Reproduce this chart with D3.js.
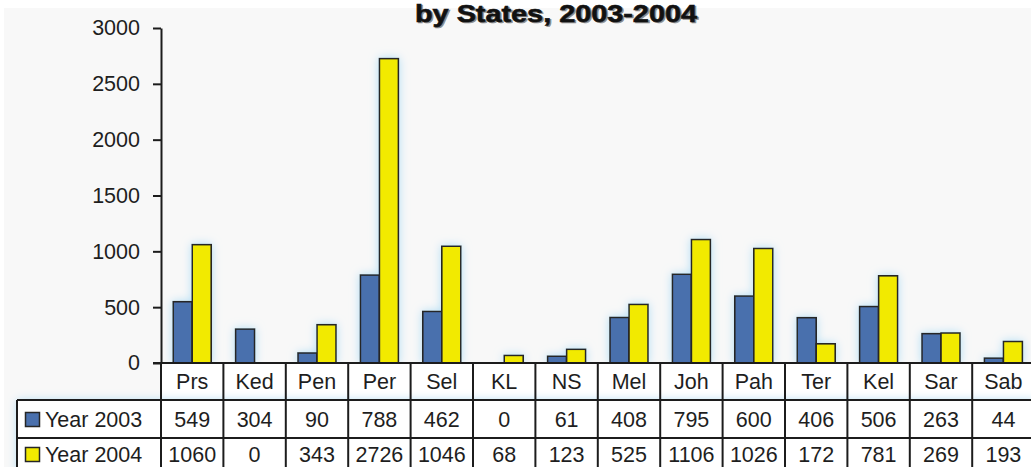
<!DOCTYPE html>
<html>
<head>
<meta charset="utf-8">
<script src="https://cdn.jsdelivr.net/npm/d3@7"></script>
<style>
  html, body { margin: 0; padding: 0; background: #ffffff; }
  svg { display: block; font-family: "Liberation Sans", Arial, sans-serif; }
</style>
</head>
<body>
<svg id="chart" width="1031" height="467"></svg>
<script>
// States (abbreviated) and yearly counts
const categories = ["Prs", "Ked", "Pen", "Per", "Sel", "KL", "NS", "Mel", "Joh", "Pah", "Ter", "Kel", "Sar", "Sab"];
const year2003 = [549, 304, 90, 788, 462, 0, 61, 408, 795, 600, 406, 506, 263, 44];
const year2004 = [1060, 0, 343, 2726, 1046, 68, 123, 525, 1106, 1026, 172, 781, 269, 193];
const seriesNames = ["Year 2003", "Year 2004"];
const yTicks = [0, 500, 1000, 1500, 2000, 2500, 3000];
const titleText = "by States, 2003-2004";

const colors = { "Year 2003": "#4a70ad", "Year 2004": "#f2ea00" };
const seriesValues = { "Year 2003": year2003, "Year 2004": year2004 };

const W = 1031, H = 467;
const plotLeft = 161, colW = 62.4;
const yTop = 28, yBase = 363;
const rowH = [37, 38, 38];   // header row, 2003 row, 2004 row
const tableLeft = 17;
const lineColor = "#1c1c1c";
const fs = 21.5;

const svg = d3.select("#chart");

// soft bluish halo around the marks
const defs = svg.append("defs");
const glow = defs.append("filter").attr("id", "halo")
  .attr("x", "-60%").attr("y", "-20%").attr("width", "220%").attr("height", "140%");
glow.append("feGaussianBlur").attr("in", "SourceAlpha").attr("stdDeviation", 5).attr("result", "b");
glow.append("feFlood").attr("flood-color", "#b3def5").attr("flood-opacity", 1);
glow.append("feComposite").attr("in2", "b").attr("operator", "in");
const gm = glow.append("feMerge");
gm.append("feMergeNode");
gm.append("feMergeNode").attr("in", "SourceGraphic");

// background panel
svg.append("rect").attr("x", 4).attr("y", 8).attr("width", W - 4).attr("height", H - 8)
  .attr("fill", "#f8f8f8");

// scales
const x0 = d3.scaleBand().domain(categories)
  .range([plotLeft, plotLeft + colW * categories.length]).paddingInner(0).paddingOuter(0);
const x1 = d3.scaleBand().domain(seriesNames).range([0, x0.bandwidth()])
  .paddingInner(0).paddingOuter(0.64);
const y = d3.scaleLinear().domain([0, 3000]).range([yBase, yTop]);

// title (heavy, with a grey drop shadow)
const title = svg.append("g");
[["#8a8a8a", 1.5], ["#111", 0]].forEach(([fill, off]) => {
  title.append("text").attr("x", 415 + off).attr("y", 21.5 + off)
    .attr("font-size", 24).attr("font-weight", "bold").attr("fill", fill)
    .attr("stroke", fill).attr("stroke-width", 0.6)
    .attr("textLength", 282).attr("lengthAdjust", "spacingAndGlyphs")
    .text(titleText);
});

// bars
const barData = [];
categories.forEach((c, i) => {
  seriesNames.forEach(s => barData.push({ cat: c, series: s, value: seriesValues[s][i] }));
});
svg.append("g").attr("filter", "url(#halo)")
  .selectAll("rect").data(barData.filter(d => d.value > 0)).join("rect")
  .attr("x", d => x0(d.cat) + x1(d.series))
  .attr("y", d => y(d.value))
  .attr("width", x1.bandwidth())
  .attr("height", d => y(0) - y(d.value))
  .attr("fill", d => colors[d.series])
  .attr("stroke", "#262626").attr("stroke-width", 1.6);

// y axis
const yAxis = svg.append("g").attr("transform", `translate(${plotLeft},0)`)
  .call(d3.axisLeft(y).tickValues(yTicks).tickFormat(d3.format("d"))
    .tickSize(8).tickPadding(13).tickSizeOuter(0));
yAxis.select(".domain").attr("stroke", lineColor).attr("stroke-width", 2);
yAxis.selectAll(".tick line").attr("stroke", lineColor).attr("stroke-width", 2);
yAxis.selectAll(".tick text").attr("font-size", fs).attr("fill", "#1e1e1e")
  .attr("font-family", "'Liberation Sans', Arial, sans-serif");

// data table below the axis
const rowTop = [yBase, yBase + rowH[0], yBase + rowH[0] + rowH[1]];
const tableBottom = rowTop[2] + rowH[2];
const tableRight = plotLeft + colW * categories.length;

const table = svg.append("g");
// white cells
table.append("rect").attr("x", plotLeft).attr("y", rowTop[0])
  .attr("width", tableRight - plotLeft).attr("height", rowH[0]).attr("fill", "#fff");
table.append("rect").attr("x", tableLeft).attr("y", rowTop[1])
  .attr("width", tableRight - tableLeft).attr("height", tableBottom - rowTop[1])
  .attr("fill", "#fff").attr("filter", "url(#halo)");

// grid lines
const gl = table.append("g").attr("stroke", lineColor).attr("stroke-width", 2);
gl.append("line").attr("x1", plotLeft - 8).attr("x2", tableRight).attr("y1", rowTop[0]).attr("y2", rowTop[0]);
gl.append("line").attr("x1", tableLeft).attr("x2", tableRight).attr("y1", rowTop[1]).attr("y2", rowTop[1]);
gl.append("line").attr("x1", tableLeft).attr("x2", tableRight).attr("y1", rowTop[2]).attr("y2", rowTop[2]);
gl.append("line").attr("x1", tableLeft).attr("x2", tableLeft).attr("y1", rowTop[1]).attr("y2", tableBottom);
gl.selectAll("line.col").data(categories.concat(["_end"])).join("line").attr("class", "col")
  .attr("x1", (d, i) => plotLeft + i * colW).attr("x2", (d, i) => plotLeft + i * colW)
  .attr("y1", rowTop[0]).attr("y2", tableBottom);

// category labels
table.selectAll("text.cat").data(categories).join("text").attr("class", "cat")
  .attr("x", d => x0(d) + x0.bandwidth() / 2)
  .attr("y", rowTop[0] + rowH[0] / 2 + 7.5)
  .attr("text-anchor", "middle").attr("font-size", fs).attr("fill", "#1e1e1e")
  .text(d => d);

// series rows (the last row sits against the bottom edge)
const rowBaseline = [rowTop[1] + 27, rowTop[2] + 24];
seriesNames.forEach((s, r) => {
  const base = rowBaseline[r];
  table.append("rect").attr("x", 25.5).attr("y", base - 14.5).attr("width", 14).attr("height", 14)
    .attr("fill", colors[s]).attr("stroke", "#262626").attr("stroke-width", 1.5);
  table.append("text").attr("x", 45).attr("y", base)
    .attr("font-size", fs).attr("fill", "#1e1e1e").text(s);
  table.selectAll(`text.v${r}`).data(seriesValues[s]).join("text").attr("class", `v${r}`)
    .attr("x", (d, i) => x0(categories[i]) + x0.bandwidth() / 2)
    .attr("y", base)
    .attr("text-anchor", "middle").attr("font-size", fs).attr("fill", "#1e1e1e")
    .text(d => d);
});
</script>
</body>
</html>
